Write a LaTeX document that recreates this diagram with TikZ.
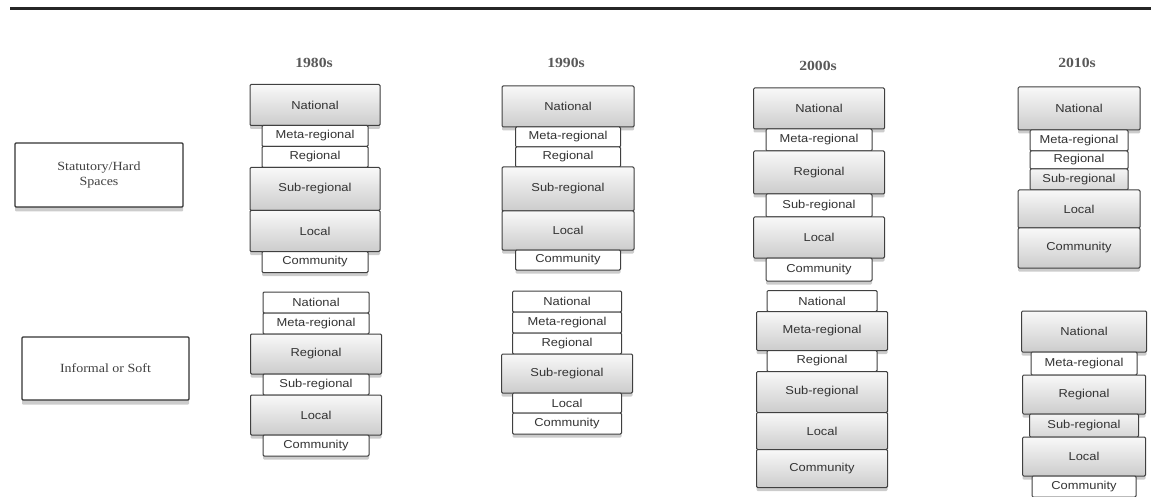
\documentclass[tikz,border=0pt]{standalone}
\usepackage{fontspec}
\setmainfont{Liberation Serif}[FakeStretch=1.12]
\setsansfont{Liberation Sans}[FakeStretch=1.12]
\usepackage{tikz}
\usetikzlibrary{positioning,shadows}
\tikzset{
  tier/.style={draw=black!75, line width=1pt, rounded corners=1.2pt, inner sep=0pt, outer sep=0pt,
    text=black!80, font=\sffamily\fontsize{11.5}{13}\selectfont,
    drop shadow={shadow xshift=0pt, shadow yshift=-3.5pt, opacity=0.4}},
  big/.style={tier, top color=gray!5, bottom color=gray!40, minimum width=#1, minimum height=41pt},
  big/.default=130pt,
  small/.style={tier, fill=white, minimum width=#1, minimum height=21pt},
  small/.default=106pt,
  mid/.style={tier, top color=gray!8, bottom color=gray!32, minimum width=#1, minimum height=21pt},
  mid/.default=102pt,
  kind/.style={draw=black!80, line width=1.2pt, rounded corners=1pt, fill=white, align=center,
    text=black!75, font=\rmfamily\fontsize{12.5}{15}\selectfont,
    drop shadow={shadow xshift=0pt, shadow yshift=-4.5pt, opacity=0.4}},
  year/.style={text=black!65, font=\rmfamily\bfseries\fontsize{14}{16}\selectfont},
}

\begin{document}
\begin{tikzpicture}[x=1pt, y=-1pt, node distance=0pt]
\useasboundingbox (0,0) rectangle (1151,497);
\draw[line width=3pt, black!85] (10,9) -- (1151,9);

% row labels
\node (hard) [kind, minimum width=168pt, minimum height=64pt] at (99,175) {Statutory/Hard\\Spaces};
\node (soft) [kind, minimum width=167pt, minimum height=63pt] at (105.5,368.5) {Informal or Soft};

% decades
\node (y80) [year] at (314,63) {1980s};
\node (y90) [year] at (566,63) {1990s};
\node (y00) [year] at (818,66) {2000s};
\node (y10) [year] at (1077,63) {2010s};

% 1980s
\node (s80nat) [big] at (315,105) {National};
\node (s80met) [small, below=of s80nat] {Meta-regional};
\node (s80reg) [small, below=of s80met] {Regional};
\node (s80sub) [big, below=of s80reg, minimum height=43pt] {Sub-regional};
\node (s80loc) [big, below=of s80sub] {Local};
\node (s80com) [small, below=of s80loc] {Community};

\node (i80nat) [small] at (316,302.5) {National};
\node (i80met) [small, below=of i80nat] {Meta-regional};
\node (i80reg) [big, below=of i80met, minimum width=131pt, minimum height=40pt] {Regional};
\node (i80sub) [small, below=of i80reg] {Sub-regional};
\node (i80loc) [big, below=of i80sub, minimum width=131pt, minimum height=40pt] {Local};
\node (i80com) [small, below=of i80loc] {Community};

% 1990s
\node (s90nat) [big=132pt] at (568,106.5) {National};
\node (s90met) [small=105pt, below=of s90nat, minimum height=20pt] {Meta-regional};
\node (s90reg) [small=105pt, below=of s90met, minimum height=20pt] {Regional};
\node (s90sub) [big=132pt, below=of s90reg, minimum height=44pt] {Sub-regional};
\node (s90loc) [big=132pt, below=of s90sub, minimum height=39pt] {Local};
\node (s90com) [small=105pt, below=of s90loc, minimum height=20pt] {Community};

\node (i90nat) [small=109pt] at (567,301.5) {National};
\node (i90met) [small=109pt, below=of i90nat] {Meta-regional};
\node (i90reg) [small=109pt, below=of i90met] {Regional};
\node (i90sub) [big=131pt, below=of i90reg, minimum height=39pt] {Sub-regional};
\node (i90loc) [small=109pt, below=of i90sub, minimum height=20pt] {Local};
\node (i90com) [small=109pt, below=of i90loc] {Community};

% 2000s
\node (s00nat) [big=131pt] at (819,108.5) {National};
\node (s00met) [small=106pt, below=of s00nat, minimum height=22pt] {Meta-regional};
\node (s00reg) [big=131pt, below=of s00met, minimum height=43pt] {Regional};
\node (s00sub) [small=106pt, below=of s00reg, minimum height=23pt] {Sub-regional};
\node (s00loc) [big=131pt, below=of s00sub] {Local};
\node (s00com) [small=106pt, below=of s00loc, minimum height=23pt] {Community};

\node (i00nat) [small=110pt] at (822,301) {National};
\node (i00met) [big=131pt, below=of i00nat, minimum height=39pt] {Meta-regional};
\node (i00reg) [small=110pt, below=of i00met] {Regional};
\node (i00sub) [big=131pt, below=of i00reg] {Sub-regional};
\node (i00loc) [big=131pt, below=of i00sub, minimum height=37pt] {Local};
\node (i00com) [big=131pt, below=of i00loc, minimum height=38pt] {Community};

% 2010s
\node (s10nat) [big=122pt, minimum height=43pt] at (1079,108.5) {National};
\node (s10met) [small=98pt, below=of s10nat] {Meta-regional};
\node (s10reg) [small=98pt, below=of s10met, minimum height=18pt] {Regional};
\node (s10sub) [mid=98pt, below=of s10reg] {Sub-regional};
\node (s10loc) [big=122pt, below=of s10sub, minimum height=38pt] {Local};
\node (s10com) [big=122pt, below=of s10loc, minimum height=40pt] {Community};

\node (i10nat) [big=125pt] at (1084,331.5) {National};
\node (i10met) [small=106pt, below=of i10nat, minimum height=23pt] {Meta-regional};
\node (i10reg) [big=123pt, below=of i10met, minimum height=39pt] {Regional};
\node (i10sub) [mid=109pt, below=of i10reg, minimum height=23pt] {Sub-regional};
\node (i10loc) [big=123pt, below=of i10sub, minimum height=39pt] {Local};
\node (i10com) [small=104pt, below=of i10loc] {Community};
\end{tikzpicture}
\end{document}
